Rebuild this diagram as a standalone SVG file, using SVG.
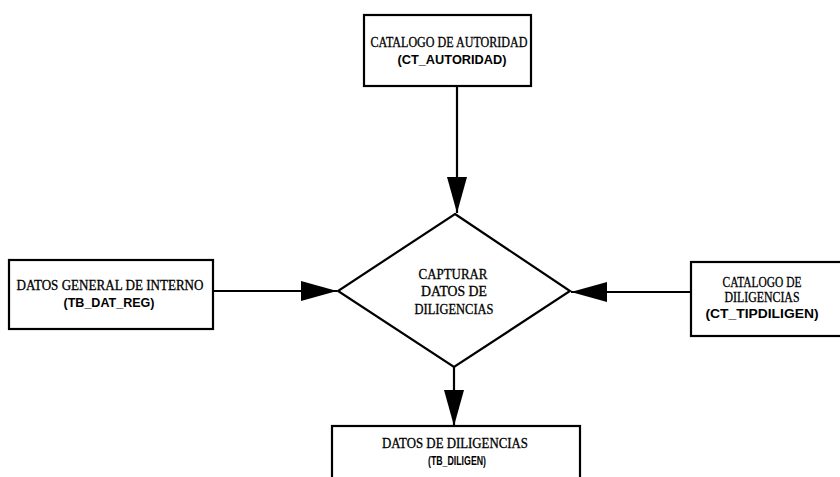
<svg xmlns="http://www.w3.org/2000/svg" width="840" height="477" viewBox="0 0 840 477">
<style>
  .box { fill: #ffffff; stroke: #000000; stroke-width: 2.2; }
  .conn { fill: none; stroke: #000000; stroke-width: 2.2; }
  .t1 { font-family: "Liberation Serif", "Times New Roman", serif; font-size: 14px; fill: #000000; stroke: #000000; stroke-width: 0.3; text-anchor: middle; }
  .t2 { font-family: "Liberation Sans", Arial, sans-serif; font-size: 12px; font-weight: bold; fill: #000000; text-anchor: middle; }
</style>
<defs>
  <marker id="arrow" markerUnits="userSpaceOnUse" markerWidth="38" markerHeight="22" refX="36" refY="10" orient="auto">
    <path d="M0,0 L36,10 L0,20 Z" fill="#000000"/>
  </marker>
</defs>
<rect width="840" height="477" fill="#ffffff"/>

<g id="connectors">
  <line class="conn" x1="457" y1="87" x2="457" y2="213" marker-end="url(#arrow)"/>
  <line class="conn" x1="213" y1="291" x2="337" y2="291" marker-end="url(#arrow)"/>
  <line class="conn" x1="691" y1="292" x2="571" y2="292" marker-end="url(#arrow)"/>
  <line class="conn" x1="454" y1="367" x2="454" y2="426" marker-end="url(#arrow)"/>
</g>

<g id="node-ct-autoridad">
  <rect class="box" x="364" y="15" width="167" height="71"/>
  <text class="t1" x="449" y="47" textLength="157" lengthAdjust="spacingAndGlyphs">CATALOGO DE AUTORIDAD</text>
  <text class="t2" x="452" y="64" textLength="109" lengthAdjust="spacingAndGlyphs">(CT_AUTORIDAD)</text>
</g>

<g id="node-tb-dat-reg">
  <rect class="box" x="9" y="260" width="204" height="69"/>
  <text class="t1" x="110" y="290" textLength="187" lengthAdjust="spacingAndGlyphs">DATOS GENERAL DE INTERNO</text>
  <text class="t2" x="109" y="307" textLength="91" lengthAdjust="spacingAndGlyphs">(TB_DAT_REG)</text>
</g>

<g id="node-ct-tipdiligen">
  <rect class="box" x="691" y="262" width="160" height="74"/>
  <text class="t1" x="762" y="287" textLength="79" lengthAdjust="spacingAndGlyphs">CATALOGO DE</text>
  <text class="t1" x="762" y="302" textLength="75" lengthAdjust="spacingAndGlyphs">DILIGENCIAS</text>
  <text class="t2" x="762" y="318" textLength="113" lengthAdjust="spacingAndGlyphs">(CT_TIPDILIGEN)</text>
</g>

<g id="node-capturar">
  <polygon class="box" points="455,214 570,291 454,367 338,291"/>
  <text class="t1" x="453" y="279" textLength="69" lengthAdjust="spacingAndGlyphs">CAPTURAR</text>
  <text class="t1" x="454" y="296" textLength="66" lengthAdjust="spacingAndGlyphs">DATOS DE</text>
  <text class="t1" x="454" y="314" textLength="79" lengthAdjust="spacingAndGlyphs">DILIGENCIAS</text>
</g>

<g id="node-tb-diligen">
  <rect class="box" x="332" y="426" width="248" height="60"/>
  <text class="t1" x="455" y="448" textLength="146" lengthAdjust="spacingAndGlyphs">DATOS DE DILIGENCIAS</text>
  <text class="t2" x="457" y="465" textLength="58" lengthAdjust="spacingAndGlyphs">(TB_DILIGEN)</text>
</g>
</svg>
